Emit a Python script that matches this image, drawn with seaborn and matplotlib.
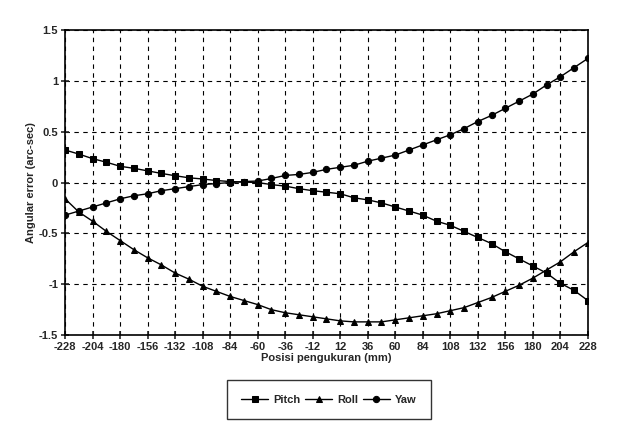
import numpy as np
import pandas as pd
import seaborn as sns
import matplotlib.pyplot as plt

# measurement positions (mm), every 12 mm
positions = list(range(-228, 229, 12))
x_ticks = list(range(-228, 229, 24))
y_ticks = [-1.5, -1, -0.5, 0, 0.5, 1, 1.5]
y_ticklabels = ["-1.5", "-1", "-0.5", "0", "0.5", "1", "1.5"]

pitch = [0.32, 0.28, 0.235, 0.20, 0.16, 0.14, 0.115, 0.09, 0.067, 0.047,
         0.035, 0.02, 0.01, 0.005, 0.0, -0.02, -0.035, -0.06, -0.08, -0.095,
         -0.11, -0.15, -0.17, -0.20, -0.24, -0.28, -0.32, -0.38, -0.42, -0.48,
         -0.54, -0.60, -0.68, -0.75, -0.82, -0.89, -0.99, -1.06, -1.16]
roll = [-0.16, -0.29, -0.38, -0.48, -0.57, -0.66, -0.74, -0.81, -0.89, -0.95,
        -1.02, -1.07, -1.12, -1.16, -1.20, -1.25, -1.28, -1.30, -1.32, -1.34,
        -1.36, -1.37, -1.37, -1.37, -1.35, -1.33, -1.31, -1.29, -1.26, -1.23,
        -1.18, -1.13, -1.07, -1.01, -0.94, -0.86, -0.78, -0.68, -0.59]
yaw = [-0.32, -0.28, -0.24, -0.20, -0.16, -0.13, -0.11, -0.08, -0.06, -0.04,
       -0.02, -0.01, 0.0, 0.01, 0.015, 0.04, 0.07, 0.08, 0.10, 0.13,
       0.15, 0.17, 0.21, 0.24, 0.27, 0.32, 0.37, 0.42, 0.47, 0.53,
       0.60, 0.66, 0.73, 0.80, 0.87, 0.96, 1.04, 1.13, 1.22]

series_names = ["Pitch", "Roll", "Yaw"]
series_markers = {"Pitch": "s", "Roll": "^", "Yaw": "o"}

df = pd.DataFrame({
    "pos": positions * 3,
    "err": pitch + roll + yaw,
    "series": sum([[n] * len(positions) for n in series_names], []),
})

sns.set_style("ticks")
plt.rcParams['font.family'] = ['Liberation Sans', 'DejaVu Sans']
plt.rcParams['axes.unicode_minus'] = False

fig = plt.figure(figsize=(6.26, 4.48), dpi=100)
ax = fig.add_axes([0.104, 0.252, 0.835, 0.681])

for name in series_names:
    sub = df[df["series"] == name]
    sns.lineplot(data=sub, x="pos", y="err", ax=ax, color="black", lw=1.0,
                 marker=series_markers[name], markersize=4.5, markeredgecolor="black",
                 label=name)

ax.set_xlim(-228, 228)
ax.set_ylim(-1.5, 1.5)
ax.set_xticks(x_ticks)
ax.set_xticklabels([str(t) for t in x_ticks], fontsize=8, fontweight="bold")
ax.set_yticks(y_ticks)
ax.set_yticklabels(y_ticklabels, fontsize=8, fontweight="bold")
ax.grid(True, color="black", linestyle=(0, (4, 4)), linewidth=0.8)
ax.tick_params(direction="inout", length=6, width=1.2, pad=2)
for s in ax.spines.values():
    s.set_color("black")
    s.set_linewidth(1.2)

ax.set_xlabel("Posisi pengukuran (mm)", fontsize=8, fontweight="bold", labelpad=1)
ax.set_ylabel("Angular error (arc-sec)", fontsize=8, fontweight="bold", labelpad=2)

leg = ax.legend(loc="upper center", bbox_to_anchor=(0.505, -0.13), ncol=3,
                frameon=True, fancybox=False, edgecolor="black", fontsize=8,
                handlelength=2.4, handletextpad=0.5, columnspacing=0.4,
                borderpad=1.3)
leg.get_frame().set_linewidth(1.0)
for t in leg.get_texts():
    t.set_fontweight("bold")

fig.savefig("out.png", dpi=100, facecolor="white")
